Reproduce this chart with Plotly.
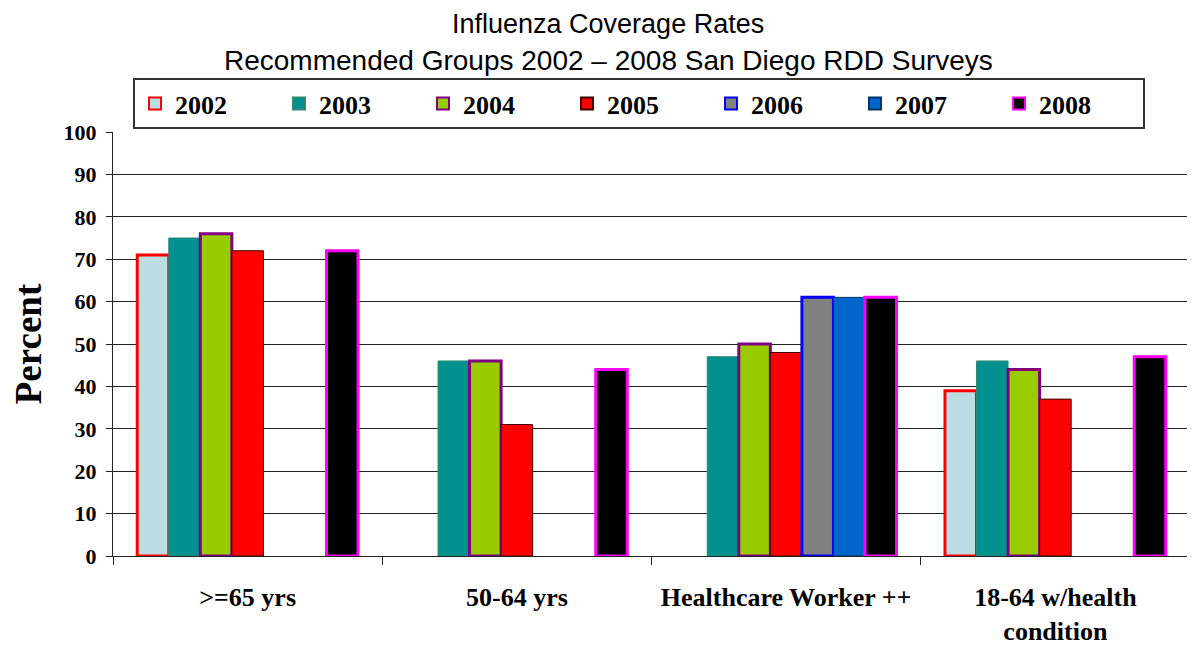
import plotly.graph_objects as go

categories = [">=65 yrs", "50-64 yrs", "Healthcare Worker ++", "18-64 w/health<br>condition"]
years = ["2002", "2003", "2004", "2005", "2006", "2007", "2008"]
v2002 = [71, None, None, 39]
v2003 = [75, 46, 47, 46]
v2004 = [76, 46, 50, 44]
v2005 = [72, 31, 48, 37]
v2006 = [None, None, 61, None]
v2007 = [None, None, 61, None]
v2008 = [72, 44, 61, 47]
series = [v2002, v2003, v2004, v2005, v2006, v2007, v2008]

fills = ["#BCDDE3", "#00918F", "#99CC00", "#FF0000", "#808080", "#0066CC", "#000000"]
lines = ["#FF0000", "#2E8A72", "#800080", "#400000", "#0000FF", "#003366", "#FF00FF"]
widths = [3, 1, 3, 1, 3, 1, 3]

fig = go.Figure()
for y, vals, fc, lc, lw in zip(years, series, fills, lines, widths):
    fig.add_trace(go.Bar(
        x=categories, y=vals, name=y,
        marker=dict(color=fc, line=dict(color=lc, width=lw)),
    ))

# page body has an 8px margin; work in figure coordinates
OFF = 8
W, H = 1195 - OFF, 646 - OFF
ML, MT = 113 - OFF, 132 - OFF
MR = W - (1190 - OFF)
MB = H - (556 - OFF)
pw, ph = W - ML - MR, H - MT - MB

fig.update_layout(
    width=W, height=H,
    margin=dict(l=ML, r=MR, t=MT, b=MB, autoexpand=False),
    paper_bgcolor="white", plot_bgcolor="white",
    barmode="group", bargap=0.18, bargroupgap=0,
    font=dict(family="Liberation Serif", color="black"),
    showlegend=True,
    legend=dict(
        orientation="h", x=(133 - OFF - ML) / pw, y=(H - MB - (78 - OFF)) / ph,
        xanchor="left", yanchor="top",
        bordercolor="#333333", borderwidth=2, bgcolor="white",
        font=dict(family="Liberation Serif", size=26, color="black", weight="bold"),
        entrywidth=99, entrywidthmode="pixels", traceorder="normal",
        itemsizing="constant",
    ),
    yaxis=dict(
        range=[0, 100], dtick=10, showgrid=True, gridcolor="#222222", gridwidth=1,
        showline=True, linecolor="#222222", linewidth=1,
        ticks="outside", ticklen=6, tickcolor="#222222",
        tickfont=dict(family="Liberation Serif", size=22, color="black", weight="bold"),
        ticklabelstandoff=5,
        title=dict(text="<b>Percent</b>", font=dict(family="Liberation Serif", size=37, color="black"), standoff=20),
    ),
    xaxis=dict(
        showline=True, linecolor="#222222", linewidth=1,
        ticks="outside", ticklen=8, tickcolor="#222222", tickson="boundaries",
        tickfont=dict(family="Liberation Serif", size=26, color="black", weight="bold"),
        ticklabelstandoff=18,
    ),
)
for text, py, fs in [("Influenza Coverage Rates", 24, 27),
                     ("Recommended Groups 2002 \u2013 2008 San Diego RDD Surveys", 61, 28)]:
    fig.add_annotation(
        text=text, x=(608 - OFF - ML) / pw, y=(H - MB - (py - OFF)) / ph, xref="paper", yref="paper",
        xanchor="center", yanchor="middle", showarrow=False,
        font=dict(family="Liberation Sans", size=fs, color="black"),
    )

fig.write_html("out.html")
